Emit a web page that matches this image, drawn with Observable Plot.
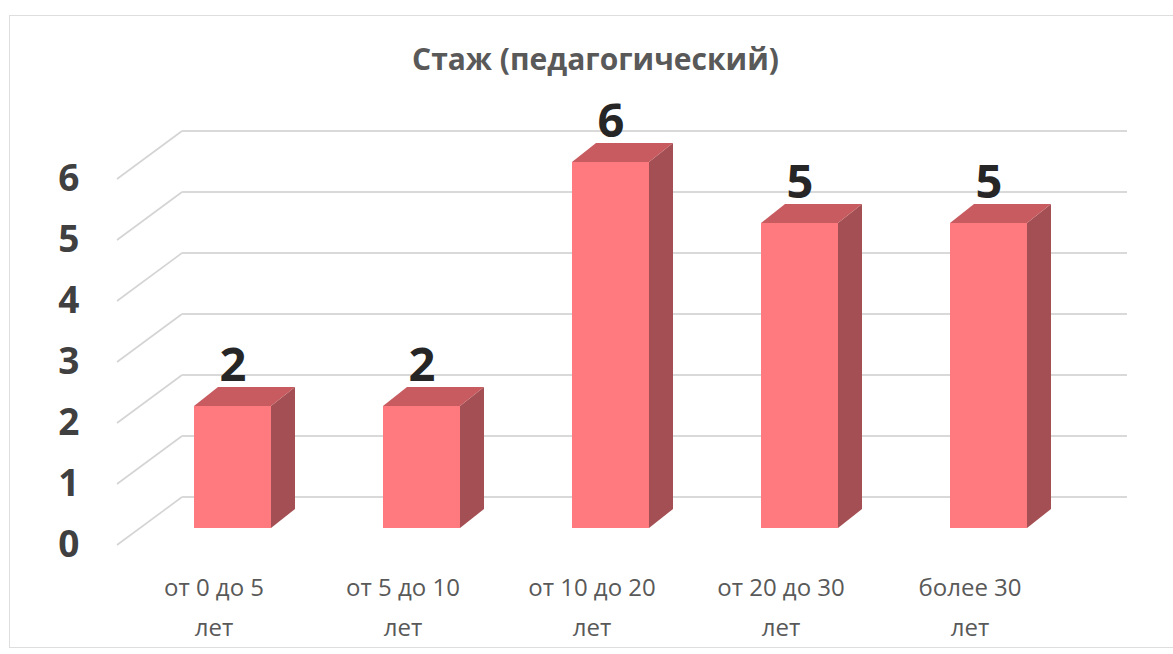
<!DOCTYPE html>
<html>
<head>
<meta charset="utf-8">
<script src="https://cdn.jsdelivr.net/npm/d3@7"></script>
<script src="https://cdn.jsdelivr.net/npm/@observablehq/plot@0.6"></script>
<style>
  html, body { margin: 0; padding: 0; background: #fff; }
  #wrap { position: relative; width: 1173px; height: 654px; overflow: hidden; }
  #frame { position: absolute; left: 9px; top: 15px; width: 1180px; height: 633px; border: 1.5px solid #dedede; box-sizing: border-box; }
  #chart { position: absolute; left: 0; top: 0; }
</style>
</head>
<body>
<div id="wrap"><div id="frame"></div><div id="chart"></div></div>
<script>
// ---- data ----
const title = "Стаж (педагогический)";
const categories = ["от 0 до 5 лет", "от 5 до 10 лет", "от 10 до 20 лет", "от 20 до 30 лет", "более 30 лет"];
const labelLines = ["от 0 до 5\nлет", "от 5 до 10\nлет", "от 10 до 20\nлет", "от 20 до 30\nлет", "более 30\nлет"];
const values = [2, 2, 6, 5, 5];
const yTicks = [0, 1, 2, 3, 4, 5, 6];

const data = categories.map((c, i) => ({cat: c, label: labelLines[i], value: values[i]}));

// ---- style / 3D geometry ----
const FRONT = "#FF7A7F", TOP = "#C75B60", SIDE = "#A34F53";
const GRID = "#d9d9d9";
const barDepth = {dx: 24, dy: -19};
const wallBack = {dx: 44.5, dy: -31};
const floorFront = {dx: -20.5, dy: 17};
const font = "'Open Sans', sans-serif";

// back wall + side wall grid lines
function walls(index, scales) {
  const {x, y} = scales;
  const [r0, r1] = x.range();
  const g = d3.create("svg:g").attr("fill", "none");
  for (const v of yTicks) {
    const yy = y(v);
    g.append("path")
      .attr("d", `M${r0 + floorFront.dx},${yy + floorFront.dy}L${r0 + wallBack.dx},${yy + wallBack.dy}`)
      .attr("stroke", "#d4d4d4").attr("stroke-width", 1.6);
    g.append("path")
      .attr("d", `M${r0 + wallBack.dx},${yy + wallBack.dy}L${r1 + wallBack.dx},${yy + wallBack.dy}`)
      .attr("stroke", GRID).attr("stroke-width", 2);
  }
  return g.node();
}

// top & side faces of the 3D bars
function faces(index, scales) {
  const {x, y} = scales;
  const bw = x.bandwidth();
  const g = d3.create("svg:g");
  for (const d of data) {
    const x0 = x(d.cat), x1 = x0 + bw;
    const yt = y(d.value), yb = y(0);
    const {dx, dy} = barDepth;
    g.append("path")
      .attr("d", `M${x1},${yt}L${x1 + dx},${yt + dy}L${x1 + dx},${yb + dy}L${x1},${yb}Z`)
      .attr("fill", SIDE);
    g.append("path")
      .attr("d", `M${x0},${yt}L${x1},${yt}L${x1 + dx},${yt + dy}L${x0 + dx},${yt + dy}Z`)
      .attr("fill", TOP);
  }
  return g.node();
}

const chart = Plot.plot({
  width: 1173,
  height: 654,
  margin: 0,
  style: {background: "transparent", fontFamily: font},
  x: {type: "band", domain: categories, range: [137.5, 1082.5], paddingInner: 0.593, paddingOuter: 0.2965, axis: null},
  y: {domain: [0, 6], range: [528, 162], axis: null},
  marks: [
    walls,
    Plot.barY(data, {x: "cat", y: "value", fill: FRONT}),
    faces,
    // value labels
    Plot.text(data, {x: "cat", y: "value", text: d => String(d.value), dy: -26, lineAnchor: "bottom",
      fontSize: 47, fontWeight: "bold", fill: "#262626", fontFamily: font}),
    // y tick labels
    Plot.text(yTicks, {y: d => d, text: d => String(d), frameAnchor: "left", dx: 79, dy: 17,
      textAnchor: "end", lineAnchor: "middle", fontSize: 37, fontWeight: "bold", fill: "#404040", fontFamily: font}),
    // x category labels
    Plot.text(data, {x: "cat", y: () => 0, text: "label", dx: -19, dy: 39, lineAnchor: "top", lineHeight: 1.667,
      fontSize: 24, fill: "#595959", fontFamily: font}),
    // title
    Plot.text([title], {frameAnchor: "top", dx: 8.5, dy: 48, lineAnchor: "top",
      fontSize: 30, fontWeight: "bold", fill: "#595959", fontFamily: font})
  ]
});
document.getElementById("chart").appendChild(chart);
</script>
</body>
</html>
